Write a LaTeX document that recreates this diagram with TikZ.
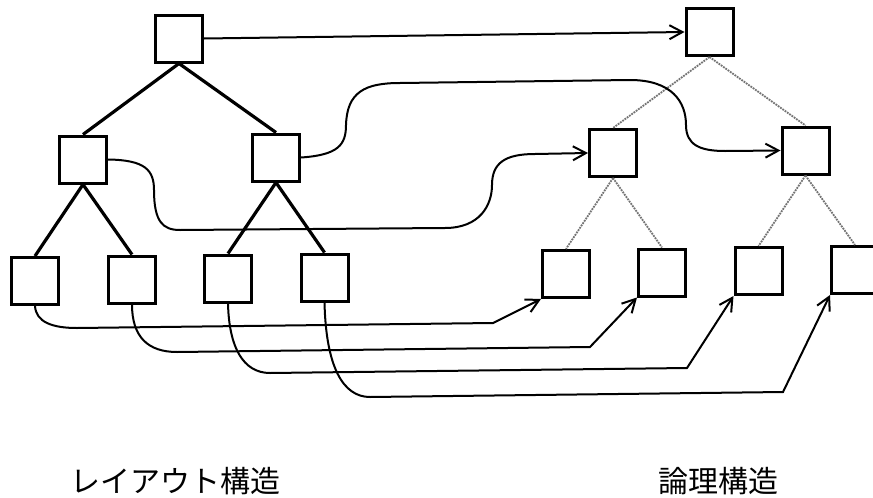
\documentclass[tikz,border=0pt]{standalone}
\usepackage{fontspec}
\newfontfamily\cjkfont{Noto Sans CJK JP}
\usetikzlibrary{arrows.meta}
\tikzset{
  box/.style={draw, line width=3pt, minimum size=47pt, inner sep=0pt},
  tree/.style={line width=3.2pt},
  ltree/.style={densely dotted, line width=1.8pt, draw=black!55},
  link/.style={line width=2pt, -{Straight Barb[length=13pt,width=14pt,line width=2pt]}},
  lbl/.style={font=\cjkfont\fontsize{30}{30}\selectfont, inner sep=0pt}
}
\begin{document}
\begin{tikzpicture}[x=1pt,y=-1pt]
\clip (0,0) rectangle (873,498);
\fill[white] (0,0) rectangle (873,498);
% layout tree
\node[box] (L0) at (179,38.5) {};
\node[box] (L1a) at (83,159.5) {};
\node[box] (L1b) at (276,157.5) {};
\node[box] (L2a) at (35,281) {};
\node[box] (L2b) at (132,279.5) {};
\node[box] (L2c) at (228,278.5) {};
\node[box] (L2d) at (324.5,277.5) {};
% logical tree
\node[box] (R0) at (709.5,32) {};
\node[box] (R1a) at (613,153) {};
\node[box] (R1b) at (805.5,150.5) {};
\node[box] (R2a) at (566,274) {};
\node[box] (R2b) at (662,272.5) {};
\node[box] (R2c) at (758.5,271) {};
\node[box] (R2d) at (855,270) {};
% tree edges
\draw[tree] (L0.south) -- (L1a.north);
\draw[tree] (L0.south) -- (L1b.north);
\draw[tree] (L1a.south) -- (L2a.north);
\draw[tree] (L1a.south) -- (L2b.north);
\draw[tree] (L1b.south) -- (L2c.north);
\draw[tree] (L1b.south) -- (L2d.north);
\draw[ltree] (R0.south) -- (R1a.north);
\draw[ltree] (R0.south) -- (R1b.north);
\draw[ltree] (R1a.south) -- (R2a.north);
\draw[ltree] (R1a.south) -- (R2b.north);
\draw[ltree] (R1b.south) -- (R2c.north);
\draw[ltree] (R1b.south) -- (R2d.north);
% links
\draw[link] (L0.east) -- (R0.west);
\draw[link] (L1b.east) .. controls (338,155) and (346,145) .. (346,125)
  .. controls (347,92) and (365,83) .. (400,83) -- (630,80)
  .. controls (672,80) and (686,102) .. (686,125)
  .. controls (686,145) and (700,151) .. (725,151) -- (R1b.west);
\draw[link] (L1a.east) .. controls (145,160) and (154,170) .. (154,190)
  .. controls (154,222) and (163,230) .. (180,230) -- (445,228)
  .. controls (480,228) and (492,205) .. (492,185)
  .. controls (492,163) and (505,154) .. (535,154) -- (R1a.west);
\draw[link] (L2a.south) .. controls (36,322) and (52,328) .. (77,328) -- (493,323) -- (R2a.south west);
\draw[link] (L2b.south) .. controls (132,337) and (148,352) .. (177,352) -- (590,347) -- (R2b.south west);
\draw[link] (L2c.south) .. controls (229,347) and (243,373) .. (270,373) -- (687,368) -- (R2c.south west);
\draw[link] (L2d.south) .. controls (326,367) and (343,397) .. (370,397) -- (783,392) -- (R2d.south west);
% labels
\node[lbl] (t1) at (175.5,481) {レイアウト構造};
\node[lbl] (t2) at (718.5,481) {論理構造};
\end{tikzpicture}
\end{document}
